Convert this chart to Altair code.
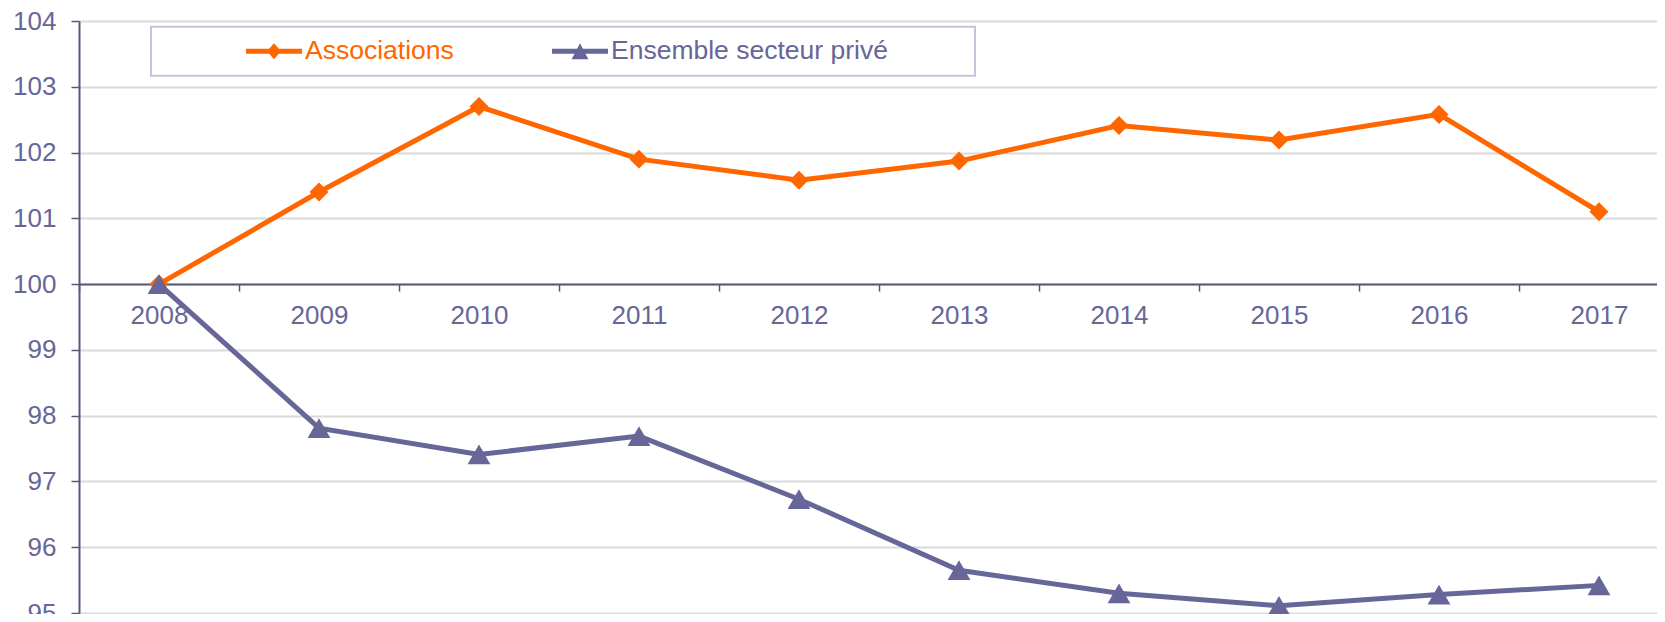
import altair as alt
import pandas as pd

years = [2008, 2009, 2010, 2011, 2012, 2013, 2014, 2015, 2016, 2017]
associations = [100.0, 101.40, 102.70, 101.90, 101.58, 101.87, 102.41, 102.19, 102.58, 101.10]
ensemble = [100.0, 97.81, 97.41, 97.69, 96.73, 95.65, 95.30, 95.11, 95.28, 95.42]
series_names = ["Associations", "Ensemble secteur privé"]
series_colors = ["#FF6600", "#666699"]
y_ticks = [95, 96, 97, 98, 99, 100, 101, 102, 103, 104]

rows = []
for name, vals in zip(series_names, [associations, ensemble]):
    for yr, v in zip(years, vals):
        rows.append({"year": yr, "value": v, "series": name})
df = pd.DataFrame(rows)

FONT = "Liberation Sans"
W, H = 1578, 592
AX = "#58587d"
LBL = "#666699"

x_enc = alt.X(
    "year:O",
    scale=alt.Scale(range=[0, 1600], paddingInner=0, paddingOuter=0),
    axis=alt.Axis(
        title=None, labelAngle=0, grid=False, tickBand="extent",
        offset=-H * (100 - 95) / (104 - 95),
        domainColor=AX, domainWidth=2, tickColor=AX, tickWidth=1.5, tickSize=7,
        labelPadding=11, labelFontSize=26, labelFont=FONT, labelColor=LBL,
    ),
)
y_enc = alt.Y(
    "value:Q",
    scale=alt.Scale(domain=[95, 104], nice=False, zero=False),
    axis=alt.Axis(
        title=None, values=y_ticks, grid=True, gridColor="#dadada", gridWidth=2,
        domainColor=AX, domainWidth=2, tickColor=AX, tickWidth=1.5, tickSize=8,
        labelPadding=15, labelFontSize=26, labelFont=FONT, labelColor=LBL,
    ),
)
color_enc = alt.Color("series:N", scale=alt.Scale(domain=series_names, range=series_colors), legend=None)

base = alt.Chart(df)

lines = base.mark_line(strokeWidth=5).encode(x=x_enc, y=y_enc, color=color_enc, detail="series:N")

points = base.mark_point(filled=True, opacity=1).encode(
    x=x_enc, y=y_enc, color=color_enc,
    shape=alt.Shape("series:N", scale=alt.Scale(domain=series_names, range=["diamond", "triangle-up"]), legend=None),
    size=alt.Size("series:N", scale=alt.Scale(domain=series_names, range=[360, 520]), legend=None),
)

# legend symbols: line segment with its marker, as custom paths
diamond_path = "M-1,-0.09L-0.172,-0.09L0,-0.29L0.172,-0.09L1,-0.09L1,0.09L0.172,0.09L0,0.29L-0.172,0.09L-1,0.09Z"
triangle_path = "M-1,-0.09L-0.103,-0.09L0,-0.29L0.103,-0.09L1,-0.09L1,0.09L0.197,0.09L0.30,0.29L-0.30,0.29L-0.197,0.09L-1,0.09Z"

leg = alt.Legend(
    title=None, orient="none", legendX=167, legendY=2, direction="horizontal",
    labelFont=FONT, labelFontSize=26.5, labelLimit=600, labelOffset=3,
    labelColor={"expr": "datum.label == 'Associations' ? '#FF6600' : '#666699'"},
    symbolType={"expr": "datum.label == 'Associations' ? '" + diamond_path + "' : '" + triangle_path + "'"},
    symbolSize=3136, symbolStrokeWidth=0, symbolOpacity=1, columnPadding=98, padding=0,
)

legend_layer = base.mark_point(filled=True, opacity=0, size=3136).encode(
    x=x_enc, y=y_enc,
    fill=alt.Fill("series:N", scale=alt.Scale(domain=series_names, range=series_colors), legend=leg),
)

box = alt.Chart(pd.DataFrame({"k": [0]})).mark_rect(fill="white", stroke="#c4c4dc", strokeWidth=2).encode(
    x=alt.value(72), x2=alt.value(896), y=alt.value(5.7), y2=alt.value(54.7)
)

chart = alt.layer(box, lines, points, legend_layer).resolve_scale(
    color="independent", shape="independent", size="independent"
).properties(
    width=W, height=H,
    autosize=alt.AutoSizeParams(type="none"),
    padding={"left": 71, "top": 13, "right": 0, "bottom": 1},
).configure_view(stroke=None).configure(font=FONT)

chart.save("out.html", embed_options={"renderer": "svg", "actions": False})
